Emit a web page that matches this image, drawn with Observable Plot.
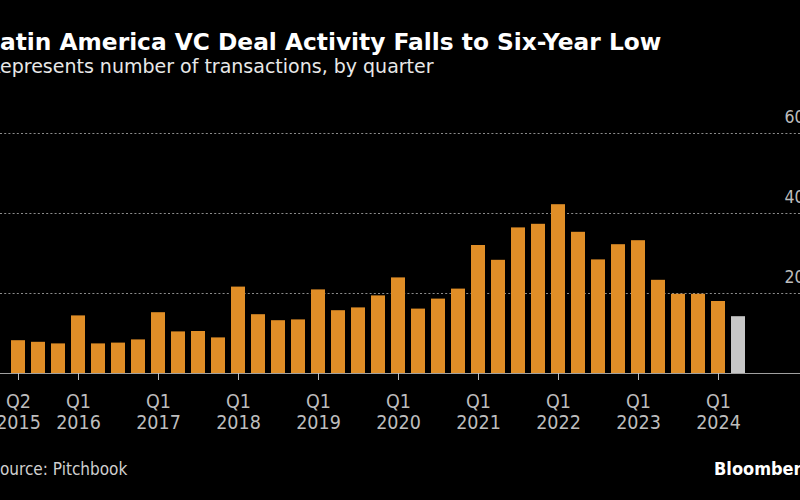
<!DOCTYPE html>
<html>
<head>
<meta charset="utf-8">
<script src="https://cdn.jsdelivr.net/npm/d3@7"></script>
<script src="https://cdn.jsdelivr.net/npm/@observablehq/plot@0.6"></script>
<style>
  html, body { margin: 0; padding: 0; background: #000; }
  body { width: 800px; height: 500px; overflow: hidden; position: relative;
         font-family: "DejaVu Sans", sans-serif; }
  .line { position: absolute; white-space: nowrap; line-height: 1; }
  #title { top: 29.5px; font-size: 23.3px; font-weight: bold; color: #fff; }
  #subtitle { top: 57px; font-size: 19px; color: #e8e8e8; }
  #source { top: 461px; font-size: 17px; color: #cfcfcf; font-family: "DejaVu Sans Condensed", "DejaVu Sans", sans-serif; }
  #brand { top: 460px; left: 714px; font-size: 18px; font-weight: bold; color: #fff; font-family: "DejaVu Sans Condensed", "DejaVu Sans", sans-serif; }
  #chart { position: absolute; left: 0; top: 90px; width: 830px; }
  #chart svg { max-width: none !important; }
</style>
</head>
<body>
<div id="title" class="line"><span class="cut">L</span>atin America VC Deal Activity Falls to Six-Year Low</div>
<div id="subtitle" class="line"><span class="cut">R</span>epresents number of transactions, by quarter</div>
<div id="chart"></div>
<div id="source" class="line"><span class="cut">S</span>ource: Pitchbook</div>
<div id="brand" class="line">Bloomberg</div>
<script>
// ---- data ----
const quarters = [
  "2015 Q2","2015 Q3","2015 Q4",
  "2016 Q1","2016 Q2","2016 Q3","2016 Q4",
  "2017 Q1","2017 Q2","2017 Q3","2017 Q4",
  "2018 Q1","2018 Q2","2018 Q3","2018 Q4",
  "2019 Q1","2019 Q2","2019 Q3","2019 Q4",
  "2020 Q1","2020 Q2","2020 Q3","2020 Q4",
  "2021 Q1","2021 Q2","2021 Q3","2021 Q4",
  "2022 Q1","2022 Q2","2022 Q3","2022 Q4",
  "2023 Q1","2023 Q2","2023 Q3","2023 Q4",
  "2024 Q1","2024 Q2"
];
const deals = [
  82, 78, 74,
  144, 74, 76, 84,
  152, 104, 105, 89,
  216, 147, 132, 134,
  209, 157, 164, 194,
  239, 161, 186, 211,
  320, 283, 364, 373,
  422, 353, 284, 322,
  332, 233, 198, 198,
  180, 142
];
const preliminary = ["2024 Q2"];
const xTicks = ["2015 Q2","2016 Q1","2017 Q1","2018 Q1","2019 Q1","2020 Q1","2021 Q1","2022 Q1","2023 Q1","2024 Q1"];
const gridTicks = [200, 400, 600];

// ---- crop offsets for the cut-off first letters ----
document.querySelectorAll(".line .cut").forEach(s => {
  s.parentElement.style.left = (-s.getBoundingClientRect().width) + "px";
});

const table = quarters.map((q, i) => ({q, v: deals[i], prelim: preliminary.includes(q)}));

const ORANGE = "#e08e27";
const GREY = "#c7c7c7";
const step = 20.69, pad = 0.32, firstCenter = 5;
const r0 = firstCenter - step * (1 + pad) / 2;
const r1 = r0 + step * (quarters.length + pad);
const COND = "'DejaVu Sans Condensed', 'DejaVu Sans', sans-serif";

const chart = Plot.plot({
  width: 830,
  height: 360,
  marginTop: 43,
  marginBottom: 77,
  marginLeft: 0,
  marginRight: 0,
  style: {background: "transparent", color: "#bdbdbd", fontFamily: COND, fontSize: "19.5px", maxWidth: "none"},
  x: {type: "band", domain: quarters, range: [r0, r1], padding: pad, axis: null},
  y: {domain: [0, 600], axis: null},
  marks: [
    Plot.ruleY(gridTicks, {stroke: "#8c8c8c", strokeWidth: 1.2, strokeDasharray: "2,2.2"}),
    Plot.barY(table, {filter: d => !d.prelim, x: "q", y: "v", fill: ORANGE}),
    Plot.barY(table, {filter: d => d.prelim, x: "q", y: "v", fill: GREY}),
    Plot.ruleY([0], {stroke: "#a0a0a0", strokeWidth: 1.2}),
    Plot.axisX({
      ticks: xTicks,
      tickFormat: d => { const [y, q] = d.split(" "); return q + "\n" + y; },
      tickSize: 7,
      tickPadding: 13,
      color: "#bdbdbd",
      fontSize: 19.5,
      lineHeight: 1.05,
      label: null
    }),
    Plot.text(gridTicks, {y: d => d, frameAnchor: "right", textAnchor: "end", dx: -16, dy: -16.5, fill: "#bdbdbd", fontSize: 17.5})
  ]
});
document.getElementById("chart").appendChild(chart);
</script>
</body>
</html>
